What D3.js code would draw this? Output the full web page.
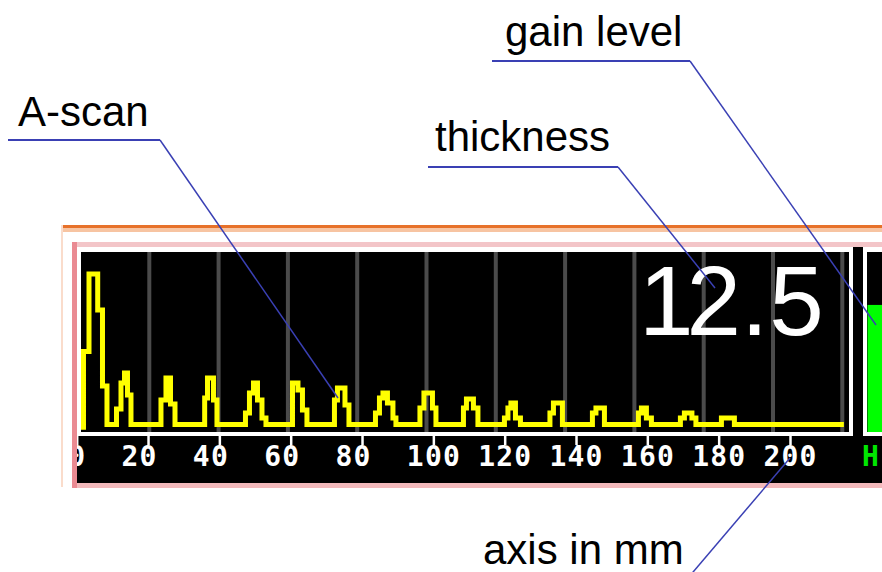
<!DOCTYPE html>
<html>
<head>
<meta charset="utf-8">
<script src="https://cdn.jsdelivr.net/npm/d3@7"></script>
<style>
  html, body { margin: 0; padding: 0; background: #ffffff; }
  svg { display: block; }
</style>
</head>
<body>
<svg id="chart" width="882" height="572"></svg>
<script>
// ---------- data ----------
const axisTicks = [0, 20, 40, 60, 80, 100, 120, 140, 160, 180, 200];
const gridDivisions = [1, 2, 3, 4, 5, 6, 7, 8, 9, 10, 11];
// A-scan trace: step samples (position in mm, amplitude in %)
const scanMm = [1.9, 1.9, 3.45, 5.89, 7.23, 8.49, 11.16, 12.42, 13.40, 14.24, 15.22,
  23.63, 25.03, 26.30, 27.56, 35.88, 36.67, 38.35, 39.33,
  47.32, 48.44, 49.57, 50.69, 51.95, 53.07, 60.50, 62.04, 63.30, 64.56,
  72.27, 73.11, 75.22, 76.34, 83.77, 84.89, 85.87, 87.13, 88.67, 89.51,
  96.24, 97.36, 99.75, 100.73, 108.44, 109.28, 111.24, 112.50,
  119.93, 120.91, 121.75, 123.02, 124.42, 132.69, 133.67, 136.19,
  144.60, 145.59, 147.97, 157.50, 158.34, 159.74, 161.14,
  169.27, 170.39, 172.50, 173.62, 180.77, 184.41, 215.1];
const scanAmp = [-3, 42.3, 87.2, 66.4, 22.3, 0, 9.0, 24.1, 29.9, 17.1, 0,
  14.2, 27.0, 11.9, 0, 15.4, 27.0, 14.2, 0,
  6.7, 18.3, 24.1, 14.2, 3.8, 0, 24.1, 20.0, 8.4, 0,
  14.2, 21.2, 11.3, 0, 6.7, 15.4, 18.3, 12.5, 3.8, 0,
  9.6, 18.3, 9.6, 0, 9.6, 14.8, 9.6, 0,
  3.8, 9.6, 12.5, 3.8, 0, 6.7, 12.5, 0,
  6.7, 9.6, 0, 6.7, 9.6, 3.8, 0,
  3.8, 6.7, 3.8, 0, 3.8, 0, 0];
const thicknessValue = "12.5";
const gainLevel = [70.6];
const gainLabel = "H";
const annotationTexts = ["A-scan", "thickness", "gain level", "axis in mm"];

// ---------- scales ----------
const svg = d3.select("#chart");
const x = d3.scaleLinear().domain([0, 200]).range([76.7, 790]);
const amp = d3.scaleLinear().domain([0, 100]).range([424.5, 252]);
const grid = d3.scaleLinear().domain([0, 11]).range([80, 842.3]);
const gain = d3.scaleLinear().domain([0, 100]).range([432, 252]);

// ---------- device frame ----------
svg.append("rect").attr("x", 61).attr("y", 225).attr("width", 821).attr("height", 3).attr("fill", "#e7712a");
svg.append("rect").attr("x", 61).attr("y", 228).attr("width", 821).attr("height", 4).attr("fill", "#f7c4a2");
svg.append("rect").attr("x", 61).attr("y", 225).attr("width", 2).attr("height", 262).attr("fill", "#fadccb");
svg.append("rect").attr("x", 72).attr("y", 242).attr("width", 810).attr("height", 5).attr("fill", "#f3c5c8");
svg.append("rect").attr("x", 72).attr("y", 483).attr("width", 810).attr("height", 5).attr("fill", "#f3b9bb");
svg.append("rect").attr("x", 72).attr("y", 242).attr("width", 5).attr("height", 246).attr("fill", "#ea8a92");

// plot area
svg.append("rect").attr("x", 81).attr("y", 252).attr("width", 768).attr("height", 180).attr("fill", "#000");
// axis strip
svg.append("rect").attr("x", 77).attr("y", 436).attr("width", 805).attr("height", 47).attr("fill", "#000");
// separator strip between plot and gain bar
svg.append("rect").attr("x", 853).attr("y", 247).attr("width", 10).attr("height", 236).attr("fill", "#000");
// gain panel
svg.append("rect").attr("x", 867).attr("y", 252).attr("width", 15).attr("height", 180).attr("fill", "#000");
// white bottom line
svg.append("rect").attr("x", 77).attr("y", 432).attr("width", 776).attr("height", 4).attr("fill", "#fff");
svg.append("rect").attr("x", 863).attr("y", 432).attr("width", 19).attr("height", 4).attr("fill", "#fff");

// clips
svg.append("clipPath").attr("id", "plotClip")
  .append("rect").attr("x", 81).attr("y", 252).attr("width", 768).attr("height", 180);
svg.append("clipPath").attr("id", "axisClip")
  .append("rect").attr("x", 77).attr("y", 432).attr("width", 776).attr("height", 51);

// gridlines
svg.append("g").attr("clip-path", "url(#plotClip)")
  .selectAll("line").data(gridDivisions).join("line")
  .attr("x1", d => grid(d)).attr("x2", d => grid(d))
  .attr("y1", 252).attr("y2", 432)
  .attr("stroke", "#4b4b4b").attr("stroke-width", 4);

// A-scan trace
const scan = scanMm.map((m, i) => ({ m, a: scanAmp[i] }));
svg.append("path").attr("clip-path", "url(#plotClip)")
  .datum(scan)
  .attr("d", d3.line().x(d => x(d.m)).y(d => amp(d.a)).curve(d3.curveStepAfter))
  .attr("fill", "none").attr("stroke", "#ffff00").attr("stroke-width", 5)
  .attr("stroke-linejoin", "miter");

// thickness reading
svg.append("text").text(thicknessValue)
  .attr("x", 639).attr("y", 335)
  .attr("dx", "0 -7 0 1")
  .attr("font-family", "Liberation Sans, Arial, sans-serif")
  .attr("font-size", 98).attr("fill", "#fff");

// gain bar
svg.append("g").selectAll("rect").data(gainLevel).join("rect")
  .attr("x", 867.5).attr("width", 14.5)
  .attr("y", d => gain(d)).attr("height", d => gain(0) - gain(d))
  .attr("fill", "#00ff00");

// axis
const axis = d3.axisBottom(x).tickValues(axisTicks).tickSize(11).tickFormat(d3.format("d"));
const ax = svg.append("g").attr("clip-path", "url(#axisClip)")
  .append("g").attr("transform", "translate(0,434)")
  .call(axis);
ax.select(".domain").remove();
ax.selectAll(".tick line").attr("stroke", "#fff").attr("stroke-width", 2.5);
ax.selectAll(".tick text")
  .attr("fill", "#fff")
  .attr("font-family", "DejaVu Sans Mono, monospace")
  .attr("font-weight", "bold")
  .attr("font-size", 28)
  .attr("letter-spacing", 1.2)
  .attr("text-anchor", "start")
  .attr("dy", null)
  .attr("y", 31.5)
  .attr("x", function (d) { const len = String(d).length; return -(Math.floor(len / 2) + 0.5) * 18; });

svg.append("text").text(gainLabel)
  .attr("x", 862).attr("y", 465.5)
  .attr("font-family", "DejaVu Sans Mono, monospace")
  .attr("font-weight", "bold").attr("font-size", 28)
  .attr("fill", "#00e600");

// ---------- annotations ----------
const annoFont = "Liberation Sans, Arial, sans-serif";
const lineColor = "#3a40b4";
const notes = [
  { t: annotationTexts[0], tx: 18, ty: 126, u: [8, 140, 160], lead: [160, 140, 338, 398] },
  { t: annotationTexts[1], tx: 435, ty: 151, u: [428, 167, 618], lead: [618, 167, 715, 288] },
  { t: annotationTexts[2], tx: 505, ty: 46, u: [492, 61, 690], lead: [690, 61, 876, 325] },
  { t: annotationTexts[3], tx: 483, ty: 564, u: null, lead: [790, 458, 688, 578] }
];
const ag = svg.append("g");
notes.forEach(n => {
  ag.append("text").text(n.t).attr("x", n.tx).attr("y", n.ty)
    .attr("font-family", annoFont).attr("font-size", 42).attr("fill", "#000");
  if (n.u) {
    ag.append("line").attr("x1", n.u[0]).attr("x2", n.u[2]).attr("y1", n.u[1]).attr("y2", n.u[1])
      .attr("stroke", lineColor).attr("stroke-width", 2);
  }
  ag.append("line").attr("x1", n.lead[0]).attr("y1", n.lead[1]).attr("x2", n.lead[2]).attr("y2", n.lead[3])
    .attr("stroke", lineColor).attr("stroke-width", 1.5);
});
</script>
</body>
</html>
